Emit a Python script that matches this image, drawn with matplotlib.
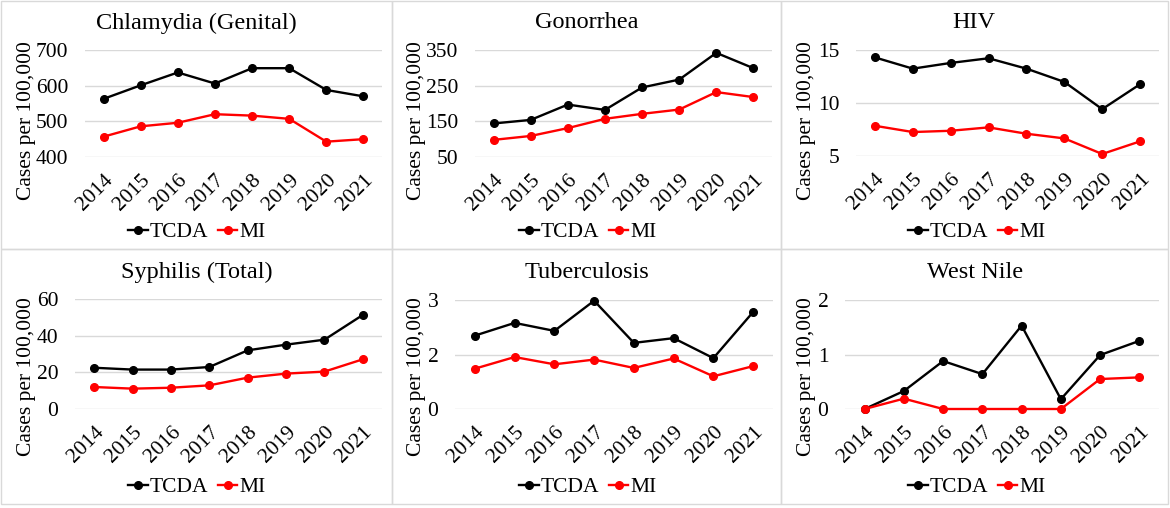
import matplotlib
matplotlib.use("Agg")
import matplotlib.pyplot as plt
from matplotlib.patches import Rectangle

plt.rcParams['font.family'] = ['Liberation Serif', 'DejaVu Serif']

years = ['2014', '2015', '2016', '2017', '2018', '2019', '2020', '2021']

chlamydia_tcda = [563, 601, 637, 606, 649, 649, 588, 570]
chlamydia_mi = [457, 486, 496, 520, 516, 507, 443, 450]

gonorrhea_tcda = [144, 154, 197, 182, 245, 267, 342, 299]
gonorrhea_mi = [98, 109, 131, 157, 171, 183, 232, 218]

hiv_tcda = [14.3, 13.24, 13.78, 14.22, 13.24, 11.99, 9.42, 11.77]
hiv_mi = [7.85, 7.26, 7.38, 7.70, 7.10, 6.66, 5.19, 6.38]

syphilis_tcda = [22.5, 21.5, 21.5, 22.9, 32.0, 35.1, 37.8, 51.3]
syphilis_mi = [12.0, 11.1, 11.6, 12.9, 17.1, 19.3, 20.4, 27.1]

tb_tcda = [2.02, 2.37, 2.15, 2.98, 1.82, 1.95, 1.40, 2.67]
tb_mi = [1.11, 1.43, 1.23, 1.36, 1.13, 1.39, 0.90, 1.18]

wn_tcda = [0.0, 0.33, 0.88, 0.64, 1.53, 0.18, 0.99, 1.25]
wn_mi = [0.0, 0.19, 0.0, 0.0, 0.0, 0.0, 0.55, 0.58]

titles = ['Chlamydia (Genital)', 'Gonorrhea', 'HIV',
          'Syphilis (Total)', 'Tuberculosis', 'West Nile']
tcda = [chlamydia_tcda, gonorrhea_tcda, hiv_tcda, syphilis_tcda, tb_tcda, wn_tcda]
mi = [chlamydia_mi, gonorrhea_mi, hiv_mi, syphilis_mi, tb_mi, wn_mi]
yticks = [[400, 500, 600, 700], [50, 150, 250, 350], [5, 10, 15],
          [0, 20, 40, 60], [0, 1.5, 3], [0, 1, 2]]
ytick_labels = [['400', '500', '600', '700'], ['50', '150', '250', '350'],
                ['5', '10', '15'], ['0', '20', '40', '60'],
                ['0', '2', '3'], ['0', '1', '2']]

W, H = 1170, 508
fig = plt.figure(figsize=(W / 100, H / 100), dpi=100)

# plot area boxes in pixels: left, right, top, bottom
boxes = [(85, 382, 50, 157), (475, 772, 50, 157), (856, 1159, 50, 156),
         (75, 382, 299, 409), (455, 773, 300, 409), (845, 1159, 300, 409)]
title_pos = [(196, 23), (587, 23), (974, 23), (197, 272), (587, 272), (975, 272)]
legend_pos = [(197, 232), (588, 232), (977, 232), (197, 487), (588, 487), (977, 487)]
ylabel_pos = [(36, 121), (426, 121), (816, 121), (36, 377), (426, 377), (816, 377)]

# panel frames
for (x0, x1, y0, y1) in [(1, 392, 1, 249), (392, 781, 1, 249), (781, 1168, 1, 249),
                         (1, 392, 249, 504), (392, 781, 249, 504), (781, 1168, 249, 504)]:
    fig.patches.append(Rectangle((x0 / W, 1 - y1 / H), (x1 - x0) / W, (y1 - y0) / H,
                                 transform=fig.transFigure, fill=False,
                                 edgecolor='#d9d9d9', linewidth=1))

for i in range(6):
    l, r, t, b = boxes[i]
    ax = fig.add_axes([l / W, 1 - b / H, (r - l) / W, (b - t) / H])
    x = range(len(years))
    ax.plot(x, tcda[i], color='black', marker='o', markersize=5.5, linewidth=1.7, label='TCDA')
    ax.plot(x, mi[i], color='#ff0000', marker='o', markersize=5.5, linewidth=1.7, label='MI')
    ax.set_xlim(-0.5, 7.5)
    ax.set_ylim(yticks[i][0], yticks[i][-1])
    ax.set_yticks(yticks[i])
    ax.set_yticklabels(ytick_labels[i], fontsize=15.5)
    ax.set_xticks(list(x))
    ax.set_xticklabels(years, fontsize=15.5, rotation=45, ha='right', rotation_mode='anchor')
    ax.tick_params(axis='y', length=0, pad=12)
    ax.tick_params(axis='x', length=0, pad=10)
    ax.grid(axis='y', color='#d9d9d9', linewidth=1)
    ax.set_axisbelow(True)
    for s in ax.spines.values():
        s.set_visible(False)
    ax.patch.set_alpha(0)
    for line in ax.get_lines():
        line.set_clip_on(False)
    ax.set_ylabel('Cases per 100,000', fontsize=15.5)
    lx0, ly0 = ylabel_pos[i]
    ax.yaxis.set_label_coords(lx0 / W, 1 - ly0 / H, transform=fig.transFigure)
    tx, ty = title_pos[i]
    fig.text(tx / W, 1 - ty / H, titles[i], fontsize=17.5, ha='center', va='center')
    lx, ly = legend_pos[i]
    ax.legend(loc='center', bbox_to_anchor=(lx / W, 1 - ly / H), bbox_transform=fig.transFigure,
              ncol=2, frameon=False, fontsize=15.5, handlelength=0.9, handletextpad=0.1,
              columnspacing=0.45, borderpad=0)

fig.savefig('out.png', dpi=100)
